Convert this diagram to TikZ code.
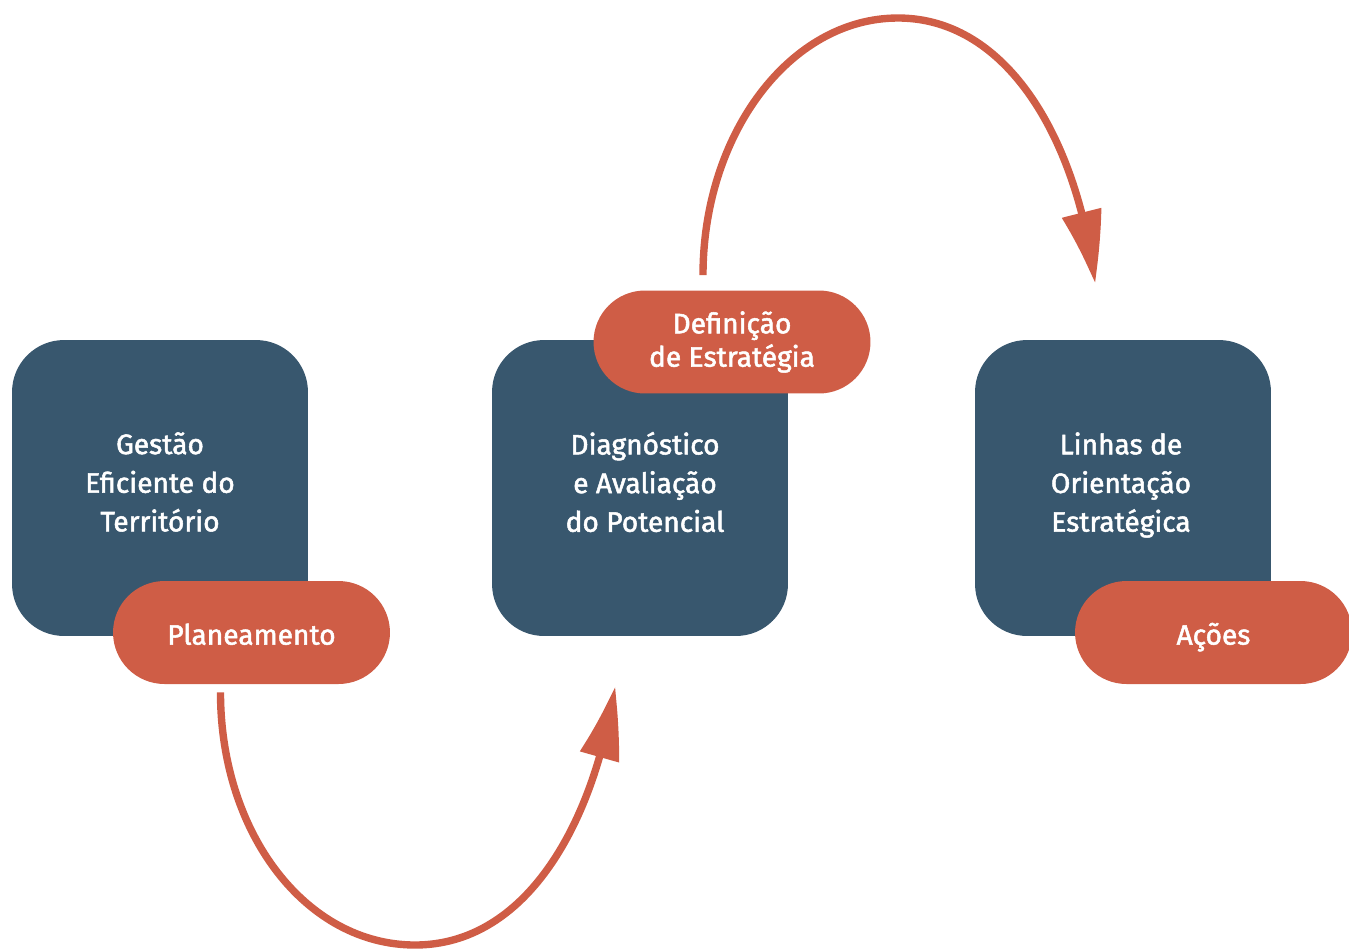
\documentclass[tikz,border=0pt]{standalone}
\usepackage{fontspec}
\setmainfont{Fira Sans}[FakeBold=1.8]
\usetikzlibrary{calc,arrows.meta,bending,positioning}
\definecolor{boxblue}{HTML}{38576E}
\definecolor{pillred}{HTML}{CF5D46}

\tikzset{
  bluebox/.style={rectangle, fill=boxblue, rounded corners=1.04cm,
    minimum width=5.92cm, minimum height=5.92cm},
  boxtext/.style={text=white, align=center, font=\fontsize{16}{22}\selectfont},
  redpill/.style={rectangle, fill=pillred, rounded corners=1.03cm,
    minimum width=5.54cm, minimum height=2.06cm, text=white,
    align=center, font=\fontsize{16}{19}\selectfont},
  onepill/.style={redpill, text height=14pt, text depth=0.2pt},
  loopline/.style={draw=pillred, line width=4.2pt,
    -{Triangle[length=42pt,width=22pt,bend]}}
}

\begin{document}
\begin{tikzpicture}[x=0.02cm,y=-0.02cm]
\useasboundingbox (0,0) rectangle (1349,951);

%draw boxes
\node[bluebox] (gestao) at (160,488) {};
\node[bluebox] (diag) at (640,488) {};
\node[bluebox] (linhas) at (1123,488) {};
\node[boxtext] (gestaotxt) at (160,482) {Gestão\\Eficiente do\\Território};
\node[boxtext] (diagtxt) at (645,482) {Diagnóstico\\e Avaliação\\do Potencial};
\node[boxtext] (linhastxt) at (1121,485) {Linhas de\\Orientação\\Estratégica};

%draw pills
\node[onepill] (plan) at (251.5,632.5) {Planeamento};
\node[redpill] (defin) at (732,342) {Definição\\de Estratégia};
\node[onepill] (acoes) at (1213.5,632.5) {Ações};

%draw arrows
\coordinate (low) at (415,945);
\coordinate (high) at (898,18);
\draw[loopline] ($(plan.south)+(-31,8)$) .. controls +(0,141) and +(-109,0) .. (low)
  .. controls +(109,0) and +(-22,142) .. ($(diag.south)+(-25,50)$);
\draw[loopline] ($(defin.north)+(-29,-15)$) .. controls +(0,-141) and +(-108,0) .. (high)
  .. controls +(108,0) and +(-18,-147) .. ($(linhas.north)+(-28,-56)$);
\end{tikzpicture}
\end{document}
